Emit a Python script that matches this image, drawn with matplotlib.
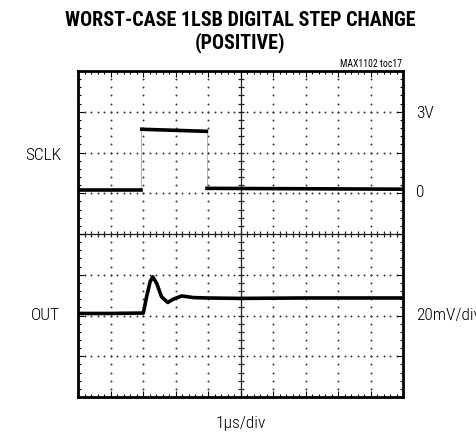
import numpy as np
import matplotlib
matplotlib.use("Agg")
import matplotlib.pyplot as plt

# screen is 10 x 8 divisions, y = 0 at the centre line
sclk_low_before = [0.0, 1.94]
sclk_high = [1.96, 3.95]
sclk_low_after = [3.97, 10.0]
sclk_low_v = 1.08
sclk_high_v = [2.57, 2.52]
sclk_low_after_v = [1.12, 1.10]
sclk_edges = [1.94, 3.96]

out_t = [0.0, 1.0, 2.01, 2.11, 2.22, 2.30, 2.42, 2.57, 2.76, 2.93, 3.19, 3.55, 3.96, 5.0, 7.0, 10.0]
out_v = [-1.95, -1.95, -1.94, -1.54, -1.17, -1.05, -1.21, -1.54, -1.68, -1.60, -1.52, -1.56, -1.57, -1.58, -1.57, -1.57]

W, H = 476, 436
fig = plt.figure(figsize=(W / 100, H / 100), dpi=100)
ax = fig.add_axes([78 / W, (H - 397) / H, 325 / W, 326 / H])
ax.set_xlim(0, 10)
ax.set_ylim(-4, 4)

font = "Roboto Condensed"

# dotted graticule
dot_y = np.arange(-4, 4.001, 0.2)
dot_x = np.arange(0, 10.001, 0.2)
for gx in [1, 2, 3, 4, 6, 7, 8, 9]:
    ax.plot(np.full_like(dot_y, gx), dot_y, ls="none", marker="o", ms=1.4,
            mfc="#333333", mec="none", zorder=1)
for gy in [-3, -2, -1, 1, 2, 3]:
    ax.plot(dot_x, np.full_like(dot_x, gy), ls="none", marker="o", ms=1.4,
            mfc="#333333", mec="none", zorder=1)

# centre cross with ticks
ax.axhline(0, color="#222222", lw=0.9, zorder=1)
ax.axvline(5, color="#222222", lw=0.9, zorder=1)
ax.plot(dot_x, np.zeros_like(dot_x), ls="none", marker="|", ms=4.5,
        mew=0.9, color="#222222", zorder=1)
ax.plot(np.full_like(dot_y, 5), dot_y, ls="none", marker="_", ms=4.5,
        mew=0.9, color="#222222", zorder=1)

# traces
lw = 2.6
ax.plot(sclk_low_before, [sclk_low_v, sclk_low_v], color="black", lw=lw, zorder=3)
ax.plot(sclk_high, sclk_high_v, color="black", lw=lw, zorder=3)
ax.plot(sclk_low_after, sclk_low_after_v, color="black", lw=lw, zorder=3)
ax.vlines(sclk_edges, sclk_low_v, 2.55, color="#999999", lw=0.5, zorder=2)
ax.plot(out_t, out_v, color="black", lw=lw, solid_joinstyle="round", zorder=3)

# frame
for s in ax.spines.values():
    s.set_linewidth(2.0)
ax.set_xticks(np.arange(0, 11, 1))
ax.set_yticks(np.arange(-4, 5, 1))
ax.set_xticks(dot_x, minor=True)
ax.set_yticks(dot_y, minor=True)
ax.tick_params(which="both", direction="in", top=True, right=True,
               labelbottom=False, labelleft=False, width=0.8)
ax.tick_params(which="major", length=4)
ax.tick_params(which="minor", length=2.5)


def px(x, y):
    return x / W, 1 - y / H


fig.text(*px(240, 20), "WORST-CASE 1LSB DIGITAL STEP CHANGE", ha="center", va="center",
         fontsize=14.5, fontweight="bold", family=font)
fig.text(*px(240, 43), "(POSITIVE)", ha="center", va="center",
         fontsize=14.5, fontweight="bold", family=font)
fig.text(*px(402, 64), "MAX1102 toc17", ha="right", va="center", fontsize=7, family=font)

lab = 12.5
fig.text(*px(43, 155), "SCLK", ha="center", va="center", fontsize=lab, family=font, fontweight="light")
fig.text(*px(45, 315), "OUT", ha="center", va="center", fontsize=lab, family=font, fontweight="light")
fig.text(*px(416, 113), "3V", ha="left", va="center", fontsize=lab, family=font, fontweight="light")
fig.text(*px(416, 192), "0", ha="left", va="center", fontsize=lab, family=font, fontweight="light")
fig.text(*px(416, 315), "20mV/div", ha="left", va="center", fontsize=lab, family=font, fontweight="light")
fig.text(*px(241, 423), "1\u00b5s/div", ha="center", va="center", fontsize=lab, family=font, fontweight="light")

fig.savefig("out.png", dpi=100)
